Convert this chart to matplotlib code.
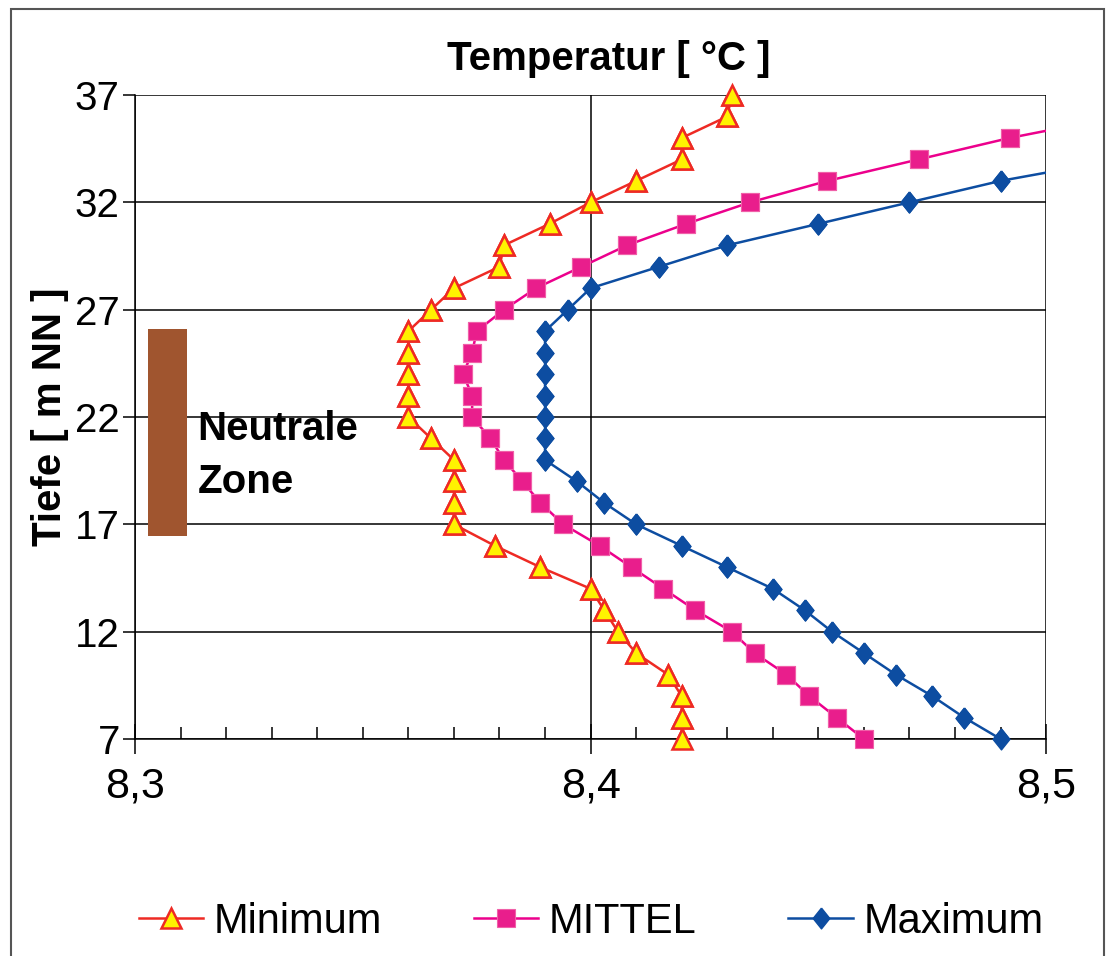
import matplotlib
matplotlib.use("Agg")
import matplotlib.pyplot as plt
from matplotlib.patches import Rectangle
from matplotlib.ticker import MultipleLocator, FixedLocator, FuncFormatter

# depth levels (m NN) and temperatures
depth = [7, 8, 9, 10, 11, 12, 13, 14, 15, 16, 17, 18, 19, 20, 21, 22,
         23, 24, 25, 26, 27, 28, 29, 30, 31, 32, 33, 34, 35, 36, 37]
t_min = [8.420, 8.420, 8.420, 8.417, 8.410, 8.406, 8.403, 8.400, 8.389, 8.379,
         8.370, 8.370, 8.370, 8.370, 8.365, 8.360, 8.360, 8.360, 8.360, 8.360,
         8.365, 8.370, 8.380, 8.381, 8.391, 8.400, 8.410, 8.420, 8.420, 8.430, 8.431]
t_mittel = [8.460, 8.454, 8.448, 8.443, 8.436, 8.431, 8.423, 8.416, 8.409, 8.402,
            8.394, 8.389, 8.385, 8.381, 8.378, 8.374, 8.374, 8.372, 8.374, 8.375,
            8.381, 8.388, 8.398, 8.408, 8.421, 8.435, 8.452, 8.472, 8.492, 8.516, 8.540]
t_max = [8.490, 8.482, 8.475, 8.467, 8.460, 8.453, 8.447, 8.440, 8.430, 8.420,
         8.410, 8.403, 8.397, 8.390, 8.390, 8.390, 8.390, 8.390, 8.390, 8.390,
         8.395, 8.400, 8.415, 8.430, 8.450, 8.470, 8.490, 8.516, 8.540, 8.565, 8.590]

y_ticks = [7, 12, 17, 22, 27, 32, 37]

# neutral zone bar
zone_x = (8.3029, 8.3114)
zone_y = (16.45, 26.1)

font = ["Liberation Sans", "DejaVu Sans"]
plt.rcParams["font.family"] = font

# Excel-like diamond, a bit taller than wide
diamond = [(0, 1), (0.8, 0), (0, -1), (-0.8, 0), (0, 1)]

fig = plt.figure(figsize=(11.07, 9.56), dpi=100)
ax = fig.add_axes([0.122, 0.227, 0.823, 0.6736])
ax.set_xlim(8.3, 8.5)
ax.set_ylim(7, 37)

series = [
    (t_min, "Minimum", dict(color="#EE2A24", marker="^", ms=15, mfc="#FFF200",
                            mec="#EE2A24", mew=1.8), 5),
    (t_mittel, "MITTEL", dict(color="#EC008C", marker="s", ms=12.5, mfc="#E91E8C",
                              mec="#F060A8", mew=0.8), 4),
    (t_max, "Maximum", dict(color="#0D4DA1", marker=diamond, ms=15, mfc="#0D4DA1",
                            mec="#0D4DA1"), 3),
]
xmax = ax.get_xlim()[1]
for temps, name, style, z in series:
    ax.plot(temps, depth, lw=1.8, label=name, zorder=z, **style)
    # markers sitting on the axes edge are not clipped in the original
    inside = [(t, d) for t, d in zip(temps, depth) if t <= xmax + 1e-9]
    ax.plot([p[0] for p in inside], [p[1] for p in inside], ls="none",
            clip_on=False, zorder=z, **style)

ax.add_patch(Rectangle((zone_x[0], zone_y[0]), zone_x[1] - zone_x[0],
                       zone_y[1] - zone_y[0], facecolor="#A0552F",
                       edgecolor="none", zorder=2))
ax.text(8.3137, 20.93, "Neutrale", fontsize=29, fontweight="bold",
        va="baseline", ha="left", zorder=6)
ax.text(8.3137, 18.46, "Zone", fontsize=29, fontweight="bold",
        va="baseline", ha="left", zorder=6)

ax.xaxis.set_major_locator(MultipleLocator(0.1))
ax.xaxis.set_minor_locator(MultipleLocator(0.01))
ax.yaxis.set_major_locator(FixedLocator(y_ticks))
ax.xaxis.set_major_formatter(FuncFormatter(lambda v, p: f"{v:.1f}".replace(".", ",")))
ax.grid(True, which="major", color="black", lw=1.1)
ax.set_axisbelow(True)

for s in ["top", "right"]:
    ax.spines[s].set_visible(False)
ax.spines["left"].set_linewidth(1.1)
ax.spines["bottom"].set_linewidth(1.1)

ax.tick_params(axis="x", which="major", direction="inout", length=22, width=1.1,
               pad=9, labelsize=31)
ax.tick_params(axis="x", which="minor", direction="in", length=9, width=1.1)
ax.tick_params(axis="y", which="major", direction="out", length=9, width=1.1,
               labelsize=29, pad=2)

fig.text(0.550, 1 - 70 / 956, "Temperatur [ \u00b0C ]", fontsize=29,
         fontweight="bold", ha="center", va="baseline")
ax.set_ylabel("Tiefe [ m NN ]", fontsize=29, fontweight="bold", labelpad=4)

fig.legend(loc="center", bbox_to_anchor=(0.534, 0.036), ncol=3,
           frameon=False, prop={"size": 30},
           handlelength=1.55, columnspacing=2.2, handletextpad=0.25)

# frame round the whole chart
fig.add_artist(Rectangle((11 / 1107, -0.02), (1104 - 11) / 1107, 1.0 - 9 / 956 + 0.02,
                         transform=fig.transFigure, fill=False,
                         edgecolor="#555555", lw=1.5))

fig.savefig("out.png", dpi=100)
